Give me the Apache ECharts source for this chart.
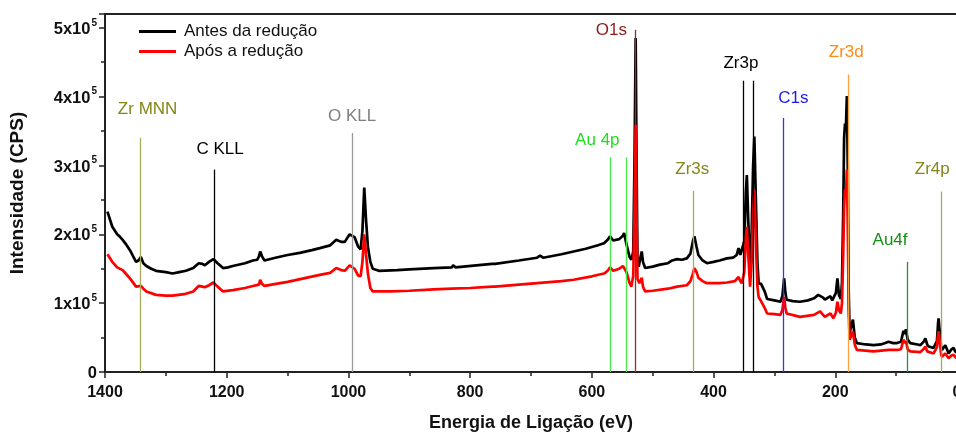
<!DOCTYPE html>
<html><head><meta charset="utf-8">
<script src="https://cdn.jsdelivr.net/npm/echarts@6/dist/echarts.min.js"></script>
<style>html,body{margin:0;padding:0;background:#fff}#c{width:956px;height:432px}</style>
</head><body><div id="c"></div><script>
// ---------- DATA ----------
const seriesNames = ['Antes da redução', 'Após a redução'];
const antesE = [1396,1388,1380,1376,1371,1365,1359,1349,1345,1341,1337,1332,1324,1316,1300,1289,1278,1267,1255,1246,1240,1236,1229,1222,1215,1206,1198,1190,1170,1157,1150,1147,1145,1142,1138,1120,1100,1080,1060,1047,1030,1020,1012,1006,998,990,984,980,977,974,971,968,964,960,950,920,900,860,830,828,824,790,764,762,759,720,690,685,680,650,630,610,590,580,574,570,565,562,555,549,547,543,538,535,532,530,528,526.5,525,523,520.5,518,516,512.5,500,488,475,468,460,452,444,438,434,431.5,428,425,418,411,400,390,378,368,362,359,356,353.6,349.5,347,345.3,343,340,337.5,335,333,330.5,328,326,322,320,316,312,300,290,287,284,282,280,270,258,245,235,228,225,220,217,212,208,205,202,199,196.5,194,191,189,187,185.5,184,182.5,181,179.5,178,176.5,174,171,168,164.5,150,137,125,118,112.5,105,98.7,92,88,86,84,81,77,65,60,54,52,49,46.6,38.5,33,31,30.3,28.5,26,24.7,19.2,16,13.8,9,5.6,3,1];
const antesI = [233000,211000,200000,197000,192000,185000,177000,160000,162000,167000,158000,154000,150000,147000,145000,143000,145000,147000,151000,158000,157000,155000,160000,164000,158000,151000,152000,154000,158000,162000,163000,168000,175000,168000,162000,166000,170000,173000,177000,180000,184000,192000,189000,189000,200000,196000,182000,178000,205000,268000,220000,182000,160000,150000,147000,148000,149000,151000,152000,155000,152000,155000,157000,159000,157000,162000,166000,169000,166000,171000,175000,179000,184000,187000,192000,197000,191000,189000,193000,198000,202000,185000,167000,163000,175000,300000,485000,300000,160000,153000,165000,175000,160000,151000,153000,156000,158000,162000,164000,163000,165000,172000,190000,197000,182000,170000,162000,158000,160000,162000,165000,166000,170000,180000,170000,168000,190000,260000,286000,220000,150000,200000,300000,342000,250000,160000,129000,128000,128000,117000,106000,104000,102000,110000,136000,115000,105000,103000,102000,104000,107000,112000,114000,108000,105000,108000,110000,104000,104000,115000,136000,112000,106000,130000,230000,340000,361000,355000,401000,300000,120000,57000,56000,76000,50000,42000,40000,39000,40000,42000,44000,42000,42000,44000,60000,55000,62000,47000,42000,40000,39000,45000,49000,40000,37000,35000,45000,72000,78000,60000,35000,32000,39000,32000,27000,33000,35000,30000,28000];
const aposE = [1396,1388,1380,1371,1365,1359,1349,1341,1337,1332,1316,1300,1289,1270,1255,1246,1240,1236,1229,1222,1215,1206,1190,1170,1157,1147,1145,1142,1138,1100,1047,1030,1020,1012,1006,998,990,984,980,977,974,971,968,964,960,930,900,860,830,800,764,762,759,720,690,650,630,600,580,574,570,565,562,555,549,547,543,538,535,532,530,528,526.5,525,522,518,516,512.5,500,475,460,444,438,434,431.5,428,425,418,411,390,378,365,359,356,353.6,349.5,347,345.3,343,340,337.5,335,333,330.5,328,326,322,320,316,312,300,290,287,284,282,280,258,235,225,220,217,208,203,199,196.5,194,191,189,187,185.5,184,182.5,181,179.5,178,176.5,174,171,168,164.5,137,112,98.7,92,88,86,84,81,77,60,54,52,49,46.6,38.5,33,31,30.3,28.5,26,24.7,19.2,16,13.8,9,5.6,1];
const aposI = [171000,160000,152000,148000,142000,136000,124000,125000,121000,117000,112000,111000,111000,113000,117000,125000,124000,123000,126000,130000,124000,117000,119000,122000,125000,127000,134000,128000,125000,131000,141000,144000,151000,148000,147000,155000,150000,140000,139000,160000,200000,170000,143000,122000,117000,117000,118000,120000,121000,122000,124000,126000,124000,127000,129000,132000,134000,139000,143000,147000,152000,147000,146000,150000,154000,156000,145000,129000,124000,140000,230000,359000,220000,135000,129000,137000,124000,117000,118000,121000,124000,126000,132000,143000,151000,145000,137000,132000,129000,129000,130000,132000,138000,132000,129000,145000,195000,211000,170000,124000,160000,230000,265000,190000,125000,109000,103000,102000,93000,85000,84000,83000,90000,109000,93000,85000,80000,83000,88000,83000,80000,85000,78000,86000,102000,90000,85000,100000,170000,240000,265000,255000,294000,220000,90000,47000,45000,59000,40000,32000,30000,32000,32000,33000,47000,42000,45000,33000,30000,29000,34000,37000,30000,28000,27000,36000,55000,59000,45000,25000,22000,27000,23000,20000,24000,25000,20000];
const xTickValues = [1400,1200,1000,800,600,400,200,0];
const yTickValues = [0,100000,200000,300000,400000,500000];
// peak assignment lines: name, energies (eV), top of line (CPS)
const peakNames = ['Zr MNN','C KLL','O KLL','Au 4p','O1s','Zr3s','Zr3p','C1s','Zr3d','Au4f','Zr4p'];
const peakEnergies = [[1342],[1221],[994],[569,543],[529.5],[434],[352,334.5],[285.6],[178.8],[82.2],[25.8]];
const peakTops = [340000,294000,347000,312000,497000,263000,423000,369000,432000,160000,262000];

// ---------- STYLE ----------
const peakLineColors = ['#aaa85a','#000000','#999999','#44ee44','#a02828','#aaa85a','#000000','#3030ff','#ffa040','#22962a','#aaa85a'];
const peakTextColors = ['#85851a','#000000','#808080','#22dd22','#8b1a1a','#85851a','#000000','#1a1aee','#ff8a14','#149014','#85851a'];
// label anchor (data coords) for each peak label
const peakLabelPos = [[1330,381000],[1211,323000],[994,372000],[591,337000],[568,497000],[435,294000],[355,448000],[269,398000],[182,465000],[110,192000],[40.6,294000]];
const FONT = "Arial, 'Liberation Sans', sans-serif";

const zip = (xs, ys) => xs.map((x, i) => [x, ys[i]]);

const markData = [];
peakNames.forEach((n, i) => {
  peakEnergies[i].forEach(e => {
    markData.push([
      { coord: [e, 0], lineStyle: { color: peakLineColors[i], width: 1.3, type: 'solid', opacity: 1 } },
      { coord: [e, peakTops[i]] }
    ]);
  });
});
const labelData = peakNames.map((n, i) => ({
  value: peakLabelPos[i],
  label: { show: true, formatter: n, color: peakTextColors[i], textBorderWidth: 0, textBorderColor: 'transparent', opacity: 1 }
}));

const chart = echarts.init(document.getElementById('c'), null, { renderer: 'canvas' });
chart.setOption({
  animation: false,
  backgroundColor: '#fff',
  textStyle: { fontFamily: FONT },
  grid: { left: 105, top: 14, width: 852, height: 358, show: true, borderColor: '#222', borderWidth: 2, backgroundColor: 'transparent', containLabel: false, outerBoundsMode: 'none' },
  legend: {
    data: seriesNames, orient: 'vertical', left: 134, top: 18, icon: 'rect', itemWidth: 37, itemHeight: 3, itemGap: 3,
    textStyle: { fontSize: 17, color: '#111', fontFamily: FONT, padding: [0, 0, 0, 3] }
  },
  xAxis: {
    type: 'value', inverse: true, min: 0, max: 1400, interval: 200,
    name: 'Energia de Ligação (eV)', nameLocation: 'middle', nameGap: 42,
    nameTextStyle: { fontSize: 18, fontWeight: 'bold', color: '#111', fontFamily: FONT },
    axisLine: { onZero: false, lineStyle: { color: '#222', width: 2 } },
    axisTick: { show: true, length: 6, lineStyle: { width: 1.5, color: '#222' } },
    minorTick: { show: true, splitNumber: 2, length: 4, lineStyle: { width: 1.5, color: '#222' } },
    splitLine: { show: false },
    axisLabel: { fontSize: 16, fontWeight: 'bold', color: '#111', margin: 13, fontFamily: FONT,
      formatter: v => xTickValues.includes(v) ? String(v) : '' }
  },
  yAxis: {
    type: 'value', min: 0, max: 520000, interval: 100000,
    name: 'Intensidade (CPS)', nameLocation: 'middle', nameGap: 78,
    nameTextStyle: { fontSize: 19, fontWeight: 'bold', color: '#111', fontFamily: FONT },
    axisLine: { show: true, onZero: false, lineStyle: { color: '#222', width: 2 } },
    axisTick: { show: true, length: 6, lineStyle: { width: 1.5, color: '#222' } },
    minorTick: { show: true, splitNumber: 2, length: 4, lineStyle: { width: 1.5, color: '#222' } },
    splitLine: { show: false },
    axisLabel: {
      margin: 8, showMaxLabel: false, fontFamily: FONT,
      formatter: v => {
        if (!yTickValues.includes(v)) return '';
        if (v === 0) return '{a|0}';
        return '{a|' + (v / 100000) + 'x10}{s|5}';
      },
      rich: {
        a: { fontSize: 16.5, fontWeight: 'bold', color: '#111', fontFamily: FONT, lineHeight: 20, verticalAlign: 'bottom' },
        s: { fontSize: 10, fontWeight: 'bold', color: '#111', fontFamily: FONT, lineHeight: 20, verticalAlign: 'top', padding: [0, 0, 7, 1] }
      }
    }
  },
  series: [
    {
      name: 'peaks', type: 'line', data: [], silent: true, z: 1,
      markLine: { silent: true, symbol: ['none', 'none'], label: { show: false }, animation: false, data: markData }
    },
    {
      name: 'labels', type: 'scatter', data: labelData, symbolSize: 0, silent: true, z: 5,
      itemStyle: { opacity: 0 },
      label: { show: true, position: 'inside', fontSize: 17, fontFamily: FONT }
    },
    {
      name: seriesNames[0], type: 'line', data: zip(antesE, antesI), showSymbol: false, symbol: 'none', z: 3,
      lineStyle: { color: '#000', width: 2.7 }, itemStyle: { color: '#000' }
    },
    {
      name: seriesNames[1], type: 'line', data: zip(aposE, aposI), showSymbol: false, symbol: 'none', z: 4,
      lineStyle: { color: '#ff0000', width: 2.7 }, itemStyle: { color: '#ff0000' }
    }
  ]
});
</script></body></html>
